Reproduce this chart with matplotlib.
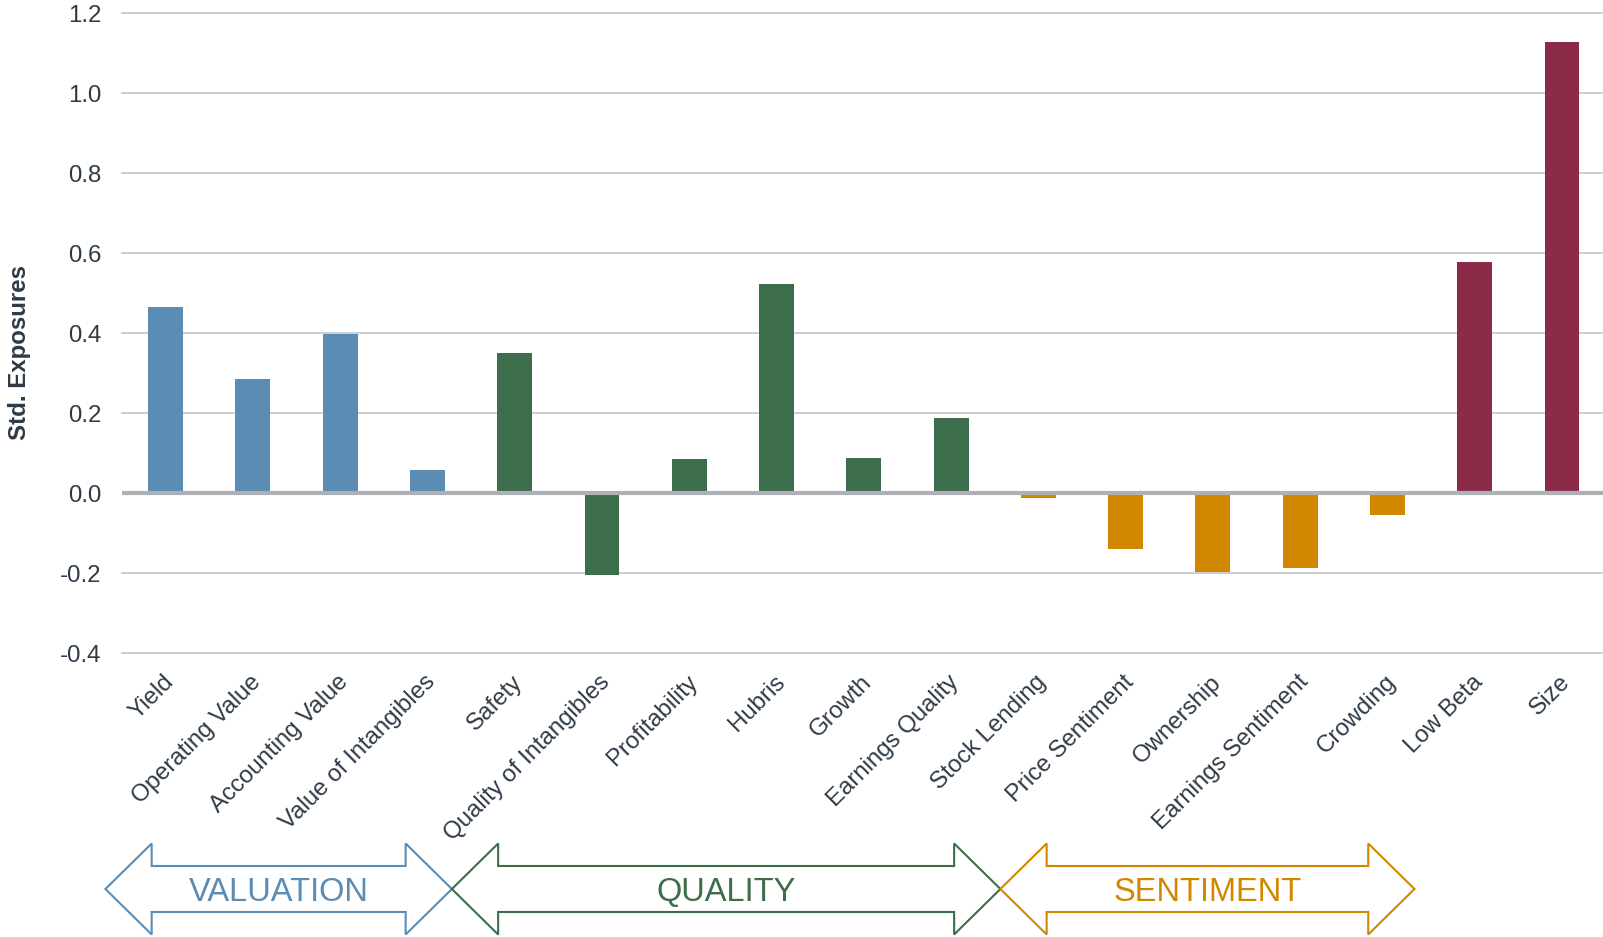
import numpy as np
import matplotlib.pyplot as plt
from matplotlib.patches import Polygon
from matplotlib.transforms import blended_transform_factory, ScaledTranslation

plt.rcParams['font.family'] = ['Liberation Sans', 'DejaVu Sans']
plt.rcParams['axes.unicode_minus'] = False

# dados
fatores = ['Yield', 'Operating Value', 'Accounting Value', 'Value of Intangibles',
           'Safety', 'Quality of Intangibles', 'Profitability', 'Hubris', 'Growth',
           'Earnings Quality', 'Stock Lending', 'Price Sentiment', 'Ownership',
           'Earnings Sentiment', 'Crowding', 'Low Beta', 'Size']
exposicoes = [0.466, 0.284, 0.397, 0.057, 0.351, -0.204, 0.086, 0.522, 0.088,
              0.187, -0.012, -0.139, -0.197, -0.187, -0.054, 0.578, 1.128]
grupos = ['val'] * 4 + ['qual'] * 6 + ['sent'] * 5 + ['risk'] * 2
cores = {'val': '#5b8cb4', 'qual': '#3c6e4b', 'sent': '#d18800', 'risk': '#8b2b47'}
y_ticks = [-0.4, -0.2, 0.0, 0.2, 0.4, 0.6, 0.8, 1.0, 1.2]

# setas dos grupos: (texto, x esquerdo, x direito, cor) em coordenadas de dados
setas = [('VALUATION', -0.69, 3.28, cores['val']),
         ('QUALITY', 3.28, 9.565, cores['qual']),
         ('SENTIMENT', 9.565, 14.31, cores['sent'])]

cor_texto = '#2e3b47'
tam_fonte = 17.3

fig = plt.figure(figsize=(16.03, 9.371), dpi=100)
ax = fig.add_axes([122 / 1603, 1 - 653 / 937, 1 - 122 / 1603, 640 / 937])

x = np.arange(len(fatores))
ax.bar(x, exposicoes, width=0.4, color=[cores[g] for g in grupos], zorder=2)

ax.set_xlim(-0.5, 16.47)
ax.set_ylim(-0.4, 1.2)
ax.set_yticks(y_ticks)
ax.set_yticklabels(['%.1f' % v for v in y_ticks])
for v in y_ticks:
    if v == 0:
        ax.axhline(v, color='#adb1b5', lw=3, zorder=3)
    else:
        ax.axhline(v, color='#bfc1c4', lw=1.1, zorder=1, clip_on=False)

ax.set_xticks(x)
ax.set_xticklabels(fatores, rotation=45, ha='right', va='top', rotation_mode='anchor')
ax.tick_params(axis='x', length=0, pad=13, labelsize=tam_fonte, labelcolor=cor_texto)
ax.tick_params(axis='y', length=0, pad=15, labelsize=tam_fonte, labelcolor=cor_texto)
desloc = ScaledTranslation(-3 / 100, 0, fig.dpi_scale_trans)
for rotulo in ax.get_xticklabels():
    rotulo.set_transform(rotulo.get_transform() + desloc)
for s in ax.spines.values():
    s.set_visible(False)

fig.text(20 / 1603, 1 - 352 / 937, 'Std. Exposures', rotation=90, ha='center', va='center',
         fontsize=tam_fonte, fontweight='bold', color=cor_texto)

# setas duplas com contorno
trans = blended_transform_factory(ax.transData, fig.transFigure)
cabeca = 0.53   # comprimento da cabeça em unidades de categoria
yc = 1 - 889 / 937
h_cab = 45.5 / 937
h_haste = 23.0 / 937
for nome, xe, xd, cor in setas:
    pts = [(xe, yc), (xe + cabeca, yc + h_cab), (xe + cabeca, yc + h_haste),
           (xd - cabeca, yc + h_haste), (xd - cabeca, yc + h_cab), (xd, yc),
           (xd - cabeca, yc - h_cab), (xd - cabeca, yc - h_haste),
           (xe + cabeca, yc - h_haste), (xe + cabeca, yc - h_cab)]
    poly = Polygon(pts, closed=True, fill=False, edgecolor=cor, lw=1.5,
                   transform=trans, clip_on=False)
    fig.add_artist(poly)
    fig.text((xe + xd) / 2, yc - 3 / 937, nome, transform=trans, fontsize=23.5,
             color=cor, ha='center', va='center')

plt.savefig('out.png', dpi=100)
